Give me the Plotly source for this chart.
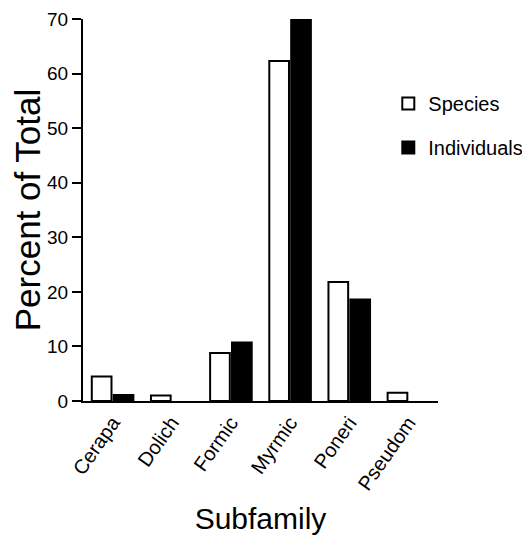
import plotly.graph_objects as go

categories = ["Cerapa", "Dolich", "Formic", "Myrmic", "Poneri", "Pseudom"]
species = [4.5, 1.0, 8.8, 62.3, 21.8, 1.5]
individuals = [1.1, 0.0, 10.7, 69.8, 18.6, 0.0]
y_ticks = [0, 10, 20, 30, 40, 50, 60, 70]

FONT = "Liberation Sans, Arial, Helvetica, sans-serif"


def outline(values):
    # no outline for empty bars so that zero values draw nothing
    return [2 if v > 0 else 0 for v in values]


fig = go.Figure()
fig.add_trace(go.Bar(
    x=categories, y=species, name="Species", legendgroup="s",
    marker=dict(color="white", line=dict(color="black", width=outline(species))),
))
fig.add_trace(go.Bar(
    x=categories, y=individuals, name="Individuals", legendgroup="i",
    marker=dict(color="black", line=dict(color="black", width=outline(individuals))),
))

fig.update_layout(
    width=530, height=537,
    margin=dict(l=75, r=100, t=11, b=144, autoexpand=False),
    paper_bgcolor="white", plot_bgcolor="white",
    font=dict(family=FONT, color="black", size=19),
    barmode="group", bargap=0.26, bargroupgap=0.1,
    showlegend=True,
    legend=dict(x=0.86, y=0.83, xanchor="left", yanchor="top",
                font=dict(size=20), tracegroupgap=15,
                traceorder="grouped", bgcolor="rgba(0,0,0,0)"),
    xaxis=dict(
        range=[-0.5, 5.5], showline=True, linecolor="black", linewidth=2,
        ticks="", tickangle=-55, tickfont=dict(size=20),
        title=dict(text="Subfamily", font=dict(size=30), standoff=15),
        showgrid=False, zeroline=False,
    ),
    yaxis=dict(
        range=[0, 70], tickvals=y_ticks, showline=True, linecolor="black",
        linewidth=2, ticks="outside", ticklen=9, tickwidth=1.5, tickcolor="black",
        tickfont=dict(size=19), showgrid=False, zeroline=False,
        title=dict(text="Percent of Total", font=dict(size=35), standoff=6),
    ),
)

fig.write_html("out.html")
